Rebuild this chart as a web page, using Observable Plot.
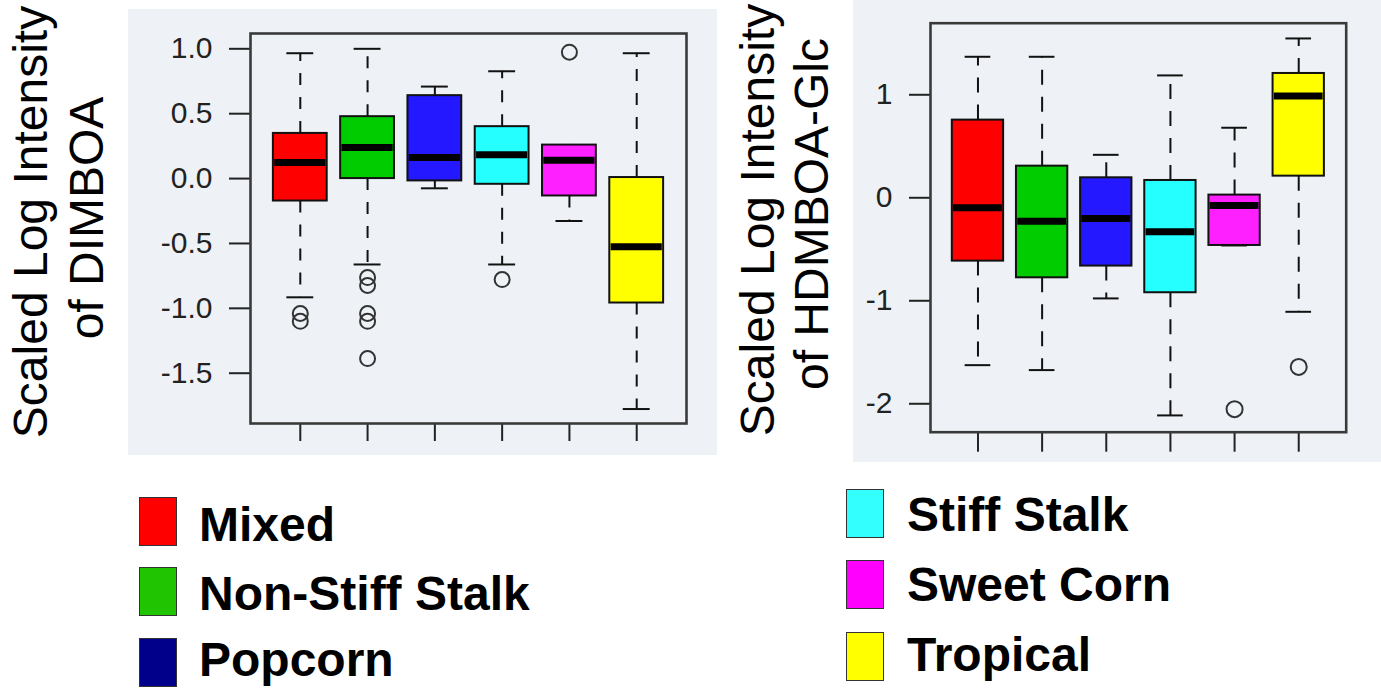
<!DOCTYPE html>
<html>
<head>
<meta charset="utf-8">
<script src="https://cdn.jsdelivr.net/npm/d3@7"></script>
<script src="https://cdn.jsdelivr.net/npm/@observablehq/plot@0.6"></script>
<style>
  html, body { margin: 0; padding: 0; background: #ffffff; }
  #page { position: relative; width: 1381px; height: 688px; overflow: hidden; background: #ffffff;
          font-family: "Liberation Sans", Arial, Helvetica, sans-serif; }
  .panel { position: absolute; }
  .sw { position: absolute; width: 36px; height: 47px; border: 1.5px solid #333; }
  .lt { position: absolute; font-weight: bold; font-size: 48px; line-height: 48px; color: #000; white-space: nowrap; }
</style>
</head>
<body>
<div id="page"></div>
<script>
// Germplasm groups, in plotting order
const groups = ["Mixed", "Non-Stiff Stalk", "Popcorn", "Stiff Stalk", "Sweet Corn", "Tropical"];
const boxFill = ["#ff0000", "#00cc00", "#2318ff", "#26ffff", "#ff20ff", "#ffff00"];
const legendFill = ["#ff0000", "#20c400", "#00008b", "#33ffff", "#ff00ff", "#ffff00"];

// DIMBOA: whisker ends, quartiles and medians per group
const dimboaLow    = [-0.915, -0.662, -0.075, -0.662, -0.327, -1.776];
const dimboaQ1     = [-0.173,  0.000, -0.018, -0.044, -0.134, -0.959];
const dimboaMedian = [ 0.124,  0.240,  0.162,  0.183,  0.142, -0.526];
const dimboaQ3     = [ 0.348,  0.477,  0.639,  0.400,  0.258,  0.008];
const dimboaHigh   = [ 0.966,  1.000,  0.709,  0.827,  0.258,  0.966];
const dimboaOutGroup = [1, 1, 2, 2, 2, 2, 2, 4, 5];
const dimboaOutValue = [-1.04, -1.10, -0.763, -0.824, -1.04, -1.10, -1.387, -0.778, 0.974];
const dimboaTicks = [1.0, 0.5, 0.0, -0.5, -1.0, -1.5];
const dimboaTickLabels = ["1.0", "0.5", "0.0", "-0.5", "-1.0", "-1.5"];

// HDMBOA-Glc: whisker ends, quartiles and medians per group
const hdmboaLow    = [-1.625, -1.673, -0.977, -2.113, -0.463, -1.107];
const hdmboaQ1     = [-0.615, -0.777, -0.663, -0.922, -0.463,  0.210];
const hdmboaMedian = [-0.097, -0.227, -0.200, -0.330, -0.074,  0.987];
const hdmboaQ3     = [ 0.754,  0.307,  0.194,  0.168,  0.026,  1.207];
const hdmboaHigh   = [ 1.369,  1.369,  0.417,  1.188,  0.680,  1.547];
const hdmboaOutGroup = [5, 6];
const hdmboaOutValue = [-2.052, -1.642];
const hdmboaTicks = [1, 0, -1, -2];
const hdmboaTickLabels = ["1", "0", "-1", "-2"];

const panelBg = "#eef2f6";
const page = document.getElementById("page");

function boxPanel(cfg) {
  const rows = groups.map((g, k) => ({
    group: g, pos: k + 1, fill: boxFill[k],
    low: cfg.low[k], q1: cfg.q1[k], median: cfg.median[k], q3: cfg.q3[k], high: cfg.high[k]
  }));
  const outliers = cfg.outGroup.map((g, k) => ({pos: g, value: cfg.outValue[k]}));
  const labelOf = new Map(cfg.ticks.map((t, k) => [t, cfg.tickLabels[k]]));
  const half = 0.4, staple = 0.2;

  return Plot.plot({
    width: cfg.width,
    height: cfg.height,
    marginLeft: cfg.margin[3],
    marginTop: cfg.margin[0],
    marginRight: cfg.margin[1],
    marginBottom: cfg.margin[2],
    x: {domain: [0.26, 6.74], axis: null},
    y: {domain: cfg.yDomain, axis: null},
    style: {background: panelBg, color: "#222", fontFamily: "'Liberation Sans', Arial, sans-serif", overflow: "visible"},
    marks: [
      Plot.axisY({ticks: cfg.ticks, tickFormat: d => labelOf.get(d), tickSize: 21, tickPadding: 17,
                  fontSize: 30, label: null, strokeWidth: 2}),
      Plot.axisX({ticks: [1, 2, 3, 4, 5, 6], tickFormat: () => "", tickSize: cfg.xTick, label: null, strokeWidth: 2}),
      // whiskers
      Plot.ruleX(rows, {x: "pos", y1: "q3", y2: "high", stroke: "#111", strokeWidth: 2, strokeDasharray: cfg.dash}),
      Plot.ruleX(rows, {x: "pos", y1: "q1", y2: "low", stroke: "#111", strokeWidth: 2, strokeDasharray: cfg.dash}),
      // staples
      Plot.ruleY(rows, {y: "high", x1: d => d.pos - staple, x2: d => d.pos + staple, stroke: "#111", strokeWidth: 2}),
      Plot.ruleY(rows, {y: "low", x1: d => d.pos - staple, x2: d => d.pos + staple, stroke: "#111", strokeWidth: 2}),
      // boxes
      Plot.rect(rows, {x1: d => d.pos - half, x2: d => d.pos + half, y1: "q1", y2: "q3",
                       fill: "fill", stroke: "#111", strokeWidth: 2}),
      // medians
      Plot.ruleY(rows, {y: "median", x1: d => d.pos - half + 0.02, x2: d => d.pos + half - 0.02,
                        stroke: "#000", strokeWidth: 7}),
      // outliers
      Plot.dot(outliers, {x: "pos", y: "value", r: cfg.r, stroke: "#333", strokeWidth: 2, fill: "none"}),
      Plot.frame({stroke: "#3a3a3a", strokeWidth: 2.6})
    ]
  });
}

function place(node, left, top) {
  const wrap = document.createElement("div");
  wrap.className = "panel";
  wrap.style.left = left + "px";
  wrap.style.top = top + "px";
  wrap.appendChild(node);
  page.appendChild(wrap);
}

place(boxPanel({
  low: dimboaLow, q1: dimboaQ1, median: dimboaMedian, q3: dimboaQ3, high: dimboaHigh,
  outGroup: dimboaOutGroup, outValue: dimboaOutValue,
  ticks: dimboaTicks, tickLabels: dimboaTickLabels,
  yDomain: [-1.8875, 1.118], width: 589, height: 446, margin: [24, 31, 32, 122],
  dash: "12,12", r: 7.5, xTick: 18
}), 128, 9);

place(boxPanel({
  low: hdmboaLow, q1: hdmboaQ1, median: hdmboaMedian, q3: hdmboaQ3, high: hdmboaHigh,
  outGroup: hdmboaOutGroup, outValue: hdmboaOutValue,
  ticks: hdmboaTicks, tickLabels: hdmboaTickLabels,
  yDomain: [-2.276, 1.695], width: 528, height: 462, margin: [22.7, 35.3, 30.3, 77],
  dash: "15,12", r: 8, xTick: 20
}), 853, 0);

// rotated y-axis titles
const titles = d3.select(page).append("svg")
  .attr("width", 1381).attr("height", 688)
  .style("position", "absolute").style("left", 0).style("top", 0).style("pointer-events", "none");
const titleLines = [
  {text: "Scaled Log Intensity", x: 47, y: 222},
  {text: "of DIMBOA", x: 103, y: 218},
  {text: "Scaled Log Intensity", x: 774, y: 220},
  {text: "of HDMBOA-Glc", x: 828, y: 214}
];
titles.selectAll("text").data(titleLines).join("text")
  .attr("transform", d => `translate(${d.x},${d.y}) rotate(-90)`)
  .attr("text-anchor", "middle")
  .attr("font-family", "'Liberation Sans', Arial, sans-serif")
  .attr("font-size", 48)
  .attr("fill", "#000")
  .text(d => d.text);

// legend, two columns of three
const legendItems = [
  {k: 0, sx: 139, sy: 497, tx: 199, base: 542},
  {k: 1, sx: 139, sy: 567, tx: 199, base: 611},
  {k: 2, sx: 139, sy: 638, tx: 199, base: 677},
  {k: 3, sx: 846, sy: 489, tx: 907, base: 532},
  {k: 4, sx: 846, sy: 560, tx: 907, base: 602},
  {k: 5, sx: 846, sy: 632, tx: 907, base: 672}
];
for (const it of legendItems) {
  const sw = document.createElement("div");
  sw.className = "sw";
  sw.style.left = it.sx + "px";
  sw.style.top = it.sy + "px";
  sw.style.background = legendFill[it.k];
  page.appendChild(sw);
  const t = document.createElement("div");
  t.className = "lt";
  t.style.left = it.tx + "px";
  t.style.top = (it.base - 40.6) + "px";
  t.textContent = groups[it.k];
  page.appendChild(t);
}
</script>
</body>
</html>
